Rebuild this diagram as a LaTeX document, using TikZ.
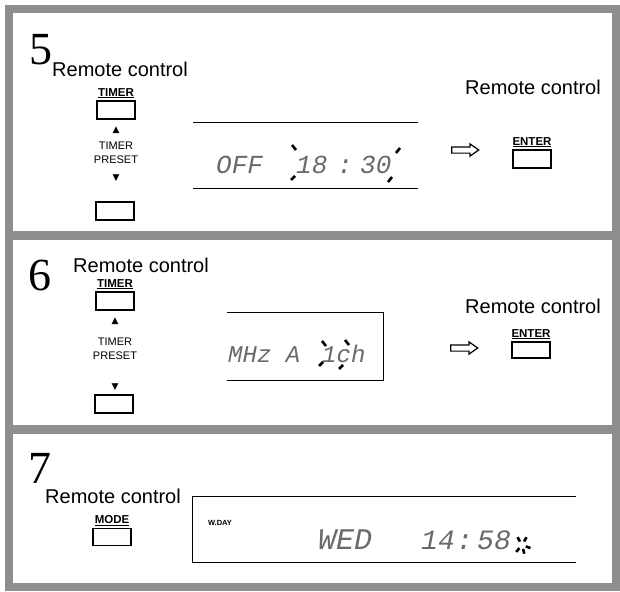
\documentclass[tikz,border=0pt]{standalone}
\usepackage{fontspec}
\setmainfont{Liberation Serif}
\setsansfont{Liberation Sans}
\setmonofont{Liberation Mono}
\newfontfamily\symfont{DejaVu Sans}
\usetikzlibrary{positioning, shapes.arrows}
\definecolor{framegray}{HTML}{8E8E8E}
\definecolor{lcdgray}{HTML}{6A6A6A}

\begin{document}
\begin{tikzpicture}[
    x=1pt, y=-1pt,
    every node/.style={font=\sffamily, inner sep=0pt},
    band/.style={framegray, line width=8pt},
    steplabel/.style={font=\rmfamily\fontsize{46}{46}\selectfont, anchor=base},
    rclabel/.style={font=\sffamily\fontsize{20}{22}\selectfont, anchor=base west},
    keylabel/.style={font=\sffamily\bfseries\fontsize{11.5}{12}\selectfont},
    presetlabel/.style={font=\sffamily\fontsize{11}{14}\selectfont, align=center},
    markup/.style={font=\symfont\fontsize{9}{9}\selectfont},
    keybox/.style={draw, line width=1.6pt, minimum width=38pt, minimum height=18pt},
    lcd/.style={font=\ttfamily\itshape\fontsize{26}{26}\selectfont, text=lcdgray, anchor=base west},
    lcdline/.style={line width=1pt},
    blinkmark/.style={line width=2.6pt},
    hollow/.style={single arrow, draw, line width=1.2pt, inner sep=2.5pt,
        minimum height=27pt, single arrow head extend=3pt, single arrow tip angle=70}
]
\useasboundingbox (0,0) rectangle (620,591);

% FRAME AND PANEL BANDS
\fill[white] (0,0) rectangle (620,591);
\draw[band] (9,9) rectangle (616,587);
\draw[band, line width=9pt] (9,235) -- (616,235);
\draw[band, line width=9pt] (9,429) -- (616,429);

% STEP 5
\node[steplabel] (num5) at (41,65) {5};
\node[rclabel] (rc5) at (52,77) {Remote control};
\node[keybox] (tup5) at (116,110) {};
\node[keylabel, above=2pt of tup5] (tlbl5) {\underline{TIMER}};
\node[markup] (upm5) at (116,130) {▲};
\node[presetlabel] (preset5) at (116,153) {TIMER\\PRESET};
\node[markup] (dnm5) at (116,178) {▼};
\node[keybox] (tdn5) at (115,211) {};

\draw[lcdline] (193,122) -- (418,122);
\draw[lcdline] (193,188) -- (418,188);
\node[lcd] (off5) at (216,173) {OFF};
\node[lcd] (hour5) at (296,173) {18};
\node[lcd] (colon5) at (337,173) {:};
\node[lcd] (min5) at (360,173) {30};
\draw[blinkmark] (292,145) -- (296,150);
\draw[blinkmark] (291,180) -- (295,176);
\draw[blinkmark] (400,148) -- (396,153);
\draw[blinkmark] (388,182) -- (392,177);

\node[hollow] (arr5) at (463,150) {};
\node[rclabel] (rcr5) at (465,95) {Remote control};
\node[keybox] (ent5) at (532,159) {};
\node[keylabel, above=2pt of ent5] (elbl5) {\underline{ENTER}};

% STEP 6
\node[steplabel] (num6) at (40,290) {6};
\node[rclabel] (rc6) at (73,272) {Remote control};
\node[keybox] (tup6) at (115,301) {};
\node[keylabel, above=2pt of tup6] (tlbl6) {\underline{TIMER}};
\node[markup] (upm6) at (115,321) {▲};
\node[presetlabel] (preset6) at (115,349) {TIMER\\PRESET};
\node[markup] (dnm6) at (115,387) {▼};
\node[keybox] (tdn6) at (114,404) {};

\draw[lcdline] (227,312) -- (383,312) -- (383,380) -- (227,380);
\node[lcd, font=\ttfamily\itshape\fontsize{24}{24}\selectfont] (band6) at (228,362) {MHz A};
\node[lcd, font=\ttfamily\itshape\fontsize{24}{24}\selectfont] (ch6) at (322,362) {1ch};
\draw[blinkmark] (322,341) -- (326,346);
\draw[blinkmark] (319,366) -- (323,362);
\draw[blinkmark] (345,340) -- (349,345);
\draw[blinkmark] (339,369) -- (343,365);

\node[hollow] (arr6) at (462,348) {};
\node[rclabel] (rcr6) at (465,313) {Remote control};
\node[keybox, minimum height=16pt] (ent6) at (531,350) {};
\node[keylabel, above=2pt of ent6] (elbl6) {\underline{ENTER}};

% STEP 7
\node[steplabel] (num7) at (40,483) {7};
\node[rclabel] (rc7) at (45,503) {Remote control};
\node[keybox, minimum height=17pt] (mode7) at (112,537) {};
\node[keylabel, above=2pt of mode7] (mlbl7) {\underline{MODE}};

\draw[lcdline] (576,496) -- (192,496) -- (192,562) -- (576,562);
\node[font=\sffamily\bfseries\fontsize{7.5}{8}\selectfont] (wday7) at (220,523) {W.DAY};
\node[lcd, font=\ttfamily\itshape\fontsize{30}{30}\selectfont] (wed7) at (318,549) {WED};
\node[lcd, font=\ttfamily\itshape\fontsize{28}{28}\selectfont] (hour7) at (421,549) {14};
\node[lcd, font=\ttfamily\itshape\fontsize{28}{28}\selectfont] (colon7) at (456,549) {:};
\node[lcd, font=\ttfamily\itshape\fontsize{28}{28}\selectfont] (min7) at (477,549) {58};
\foreach \a in {20,75,130,240,300}
    \draw[blinkmark, shift={(522,545)}] (\a:4) -- (\a:9);

\end{tikzpicture}
\end{document}
